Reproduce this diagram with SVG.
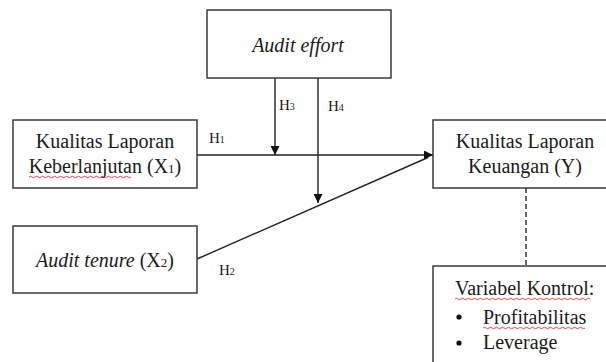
<svg xmlns="http://www.w3.org/2000/svg" width="606" height="362" viewBox="0 0 606 362">
<style>
.box{fill:#fff;stroke:#3a3a3a;stroke-width:1.5}
.t{font-family:'Liberation Serif','Times New Roman',serif;font-size:20px;fill:#1a1a1a}
.i{font-style:italic}
.h{font-family:'Liberation Serif','Times New Roman',serif;font-size:15px;fill:#1a1a1a}
.ln{stroke:#222;stroke-width:1.4;fill:none}
.sq{stroke:#e03030;stroke-width:0.9;fill:none}
</style>
<defs>
<marker id="ah" viewBox="0 0 10 10" refX="10" refY="5" markerWidth="9" markerHeight="9" markerUnits="userSpaceOnUse" orient="auto">
<path d="M0,0 L10,5 L0,10 z" fill="#111"/>
</marker>
</defs>
<rect width="606" height="362" fill="#fff"/>
<g id="connectors" font-family="Liberation Serif">
<line class="ln" x1="197" y1="155" x2="433" y2="155" marker-end="url(#ah)"/>
<line class="ln" x1="197" y1="259" x2="428" y2="157.5"/>
<line class="ln" x1="275" y1="78" x2="275" y2="155" marker-end="url(#ah)"/>
<line class="ln" x1="318" y1="78" x2="318" y2="203" marker-end="url(#ah)"/>
<line class="ln" x1="526" y1="188" x2="526" y2="266" stroke-dasharray="5,3"/>
<text class="h" x="209" y="143">H<tspan font-size="10">1</tspan></text>
<text class="h" x="279" y="110">H<tspan font-size="10">3</tspan></text>
<text class="h" x="328" y="111">H<tspan font-size="10">4</tspan></text>
<text class="h" x="219" y="275">H<tspan font-size="10">2</tspan></text>
</g>
<g id="x1" font-family="Liberation Serif">
<rect class="box" x="13" y="120" width="184" height="68"/>
<text class="t" x="105" y="147.5" text-anchor="middle">Kualitas Laporan</text>
<text class="t" x="105" y="173" text-anchor="middle">Keberlanjutan (X<tspan font-size="13">1</tspan>)</text>
<path class="sq" d="M29,177 q1.5,-1.5 3,0 t3,0 t3,0 t3,0 t3,0 t3,0 t3,0 t3,0 t3,0 t3,0 t3,0 t3,0 t3,0 t3,0 t3,0 t3,0 t3,0 t3,0 t3,0 t3,0 t3,0 t3,0 t3,0 t3,0 t3,0 t3,0 t3,0 t3,0 t3,0 t3,0 t3,0 t3,0 t3,0 t3,0"/>
</g>
<g id="x2" font-family="Liberation Serif">
<rect class="box" x="13" y="226" width="184" height="67"/>
<text class="t" x="105" y="266.5" text-anchor="middle"><tspan class="i">Audit tenure</tspan> (X<tspan font-size="13">2</tspan>)</text>
</g>
<g id="effort" font-family="Liberation Serif">
<rect class="box" x="207" y="10" width="184" height="68"/>
<text class="t i" x="298" y="52" text-anchor="middle">Audit effort</text>
</g>
<g id="y" font-family="Liberation Serif">
<rect class="box" x="433" y="120" width="180" height="68"/>
<text class="t" x="525" y="147.5" text-anchor="middle">Kualitas Laporan</text>
<text class="t" x="525" y="173" text-anchor="middle">Keuangan (Y)</text>
</g>
<g id="control" font-family="Liberation Serif">
<rect class="box" x="433" y="266" width="180" height="110"/>
<text class="t" x="455" y="295">Variabel Kontrol:</text>
<path class="sq" d="M455,299 q1.5,-1.5 3,0 t3,0 t3,0 t3,0 t3,0 t3,0 t3,0 t3,0 t3,0 t3,0 t3,0 t3,0 t3,0 t3,0 t3,0 t3,0 t3,0 t3,0 t3,0 t3,0 t3,0 t3,0 t3,0 t3,0 t3,0 t3,0 t3,0 t3,0 t3,0 t3,0 t3,0 t3,0 t3,0 t3,0 t3,0 t3,0 t3,0 t3,0 t3,0 t3,0 t3,0 t3,0 t3,0 t3,0 t3,0"/>
<circle cx="459" cy="317" r="2.6" fill="#111"/>
<text class="t" x="483" y="324">Profitabilitas</text>
<path class="sq" d="M483,328 q1.5,-1.5 3,0 t3,0 t3,0 t3,0 t3,0 t3,0 t3,0 t3,0 t3,0 t3,0 t3,0 t3,0 t3,0 t3,0 t3,0 t3,0 t3,0 t3,0 t3,0 t3,0 t3,0 t3,0 t3,0 t3,0 t3,0 t3,0 t3,0 t3,0 t3,0 t3,0 t3,0 t3,0 t3,0 t3,0"/>
<circle cx="459" cy="343" r="2.6" fill="#111"/>
<text class="t" x="483" y="349">Leverage</text>
</g>
</svg>
